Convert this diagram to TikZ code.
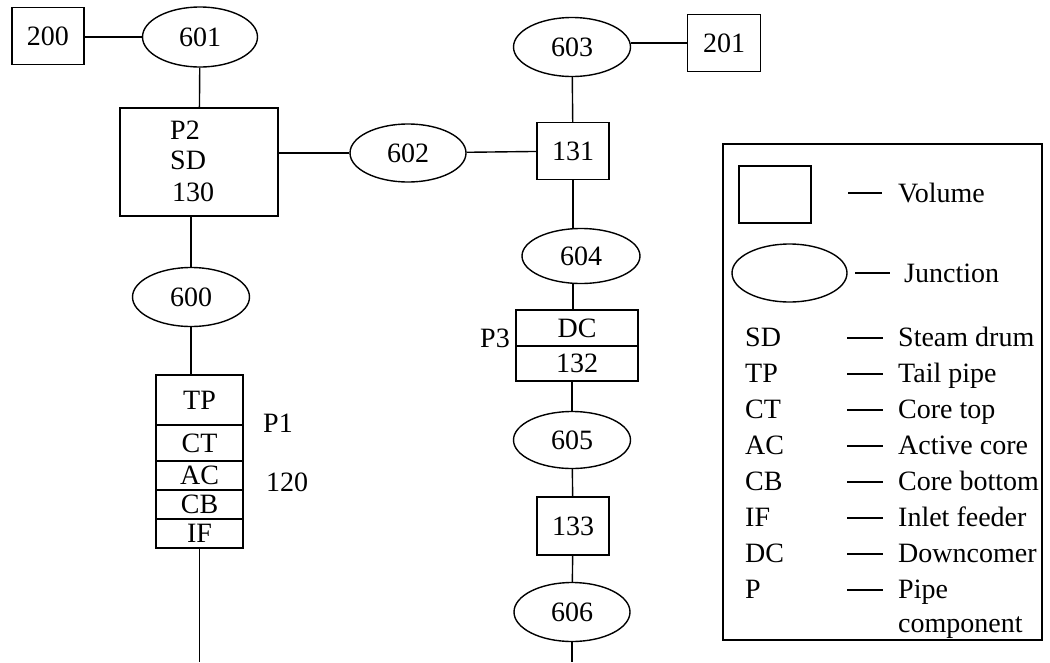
\documentclass[tikz,border=0pt]{standalone}
\usepackage{fontspec}
\setmainfont{Liberation Serif}
\usetikzlibrary{shapes.geometric}
\begin{document}
\begin{tikzpicture}[x=1pt,y=-1pt,
  every node/.style={font=\fontsize{28}{33}\selectfont, inner sep=0pt},
  box/.style 2 args={draw, line width=1.4pt, rectangle, minimum width=#1, minimum height=#2},
  junc/.style 2 args={draw, line width=1.4pt, ellipse, minimum width=#1, minimum height=#2},
  conn/.style={line width=1.4pt},
  dashln/.style={line width=1.2pt},
  abbr/.style={anchor=base west},
  desc/.style={anchor=base west}]
\useasboundingbox (0,0) rectangle (1050,662);
% left column
\node[box={72pt}{57pt}] (b200) at (48,36) {200};
\node[junc={115pt}{60pt}] (j601) at (200,37) {601};
\node[box={158pt}{108pt}] (sd) at (199,162) {};
\node[anchor=west] (tp2) at (170,130) {P2};
\node[anchor=west] (tsd) at (170,160) {SD};
\node[anchor=west] (t130) at (172,192) {130};
\node[junc={117pt}{59pt}] (j600) at (191,297) {600};
\node[box={87pt}{50pt}] (tp) at (199.5,400) {TP};
\node[box={87pt}{36pt}] (ct) at (199.5,443) {CT};
\node[box={87pt}{29pt}] (ac) at (199.5,475.5) {AC};
\node[box={87pt}{29pt}] (cb) at (199.5,504.5) {CB};
\node[box={87pt}{29pt}] (if) at (199.5,533.5) {IF};
\node[anchor=west] (p1) at (263,423) {P1};
\node[anchor=west] (l120) at (266,482) {120};
\coordinate (endL) at (199.5,662);
% middle
\node[junc={116pt}{58pt}] (j602) at (408,153) {602};
% right column
\node[junc={117pt}{59pt}] (j603) at (572,47) {603};
\node[box={73pt}{57pt}] (b201) at (724,43) {201};
\node[box={72pt}{57pt}] (v131) at (573,151) {131};
\node[junc={118pt}{55pt}] (j604) at (581,256) {604};
\node[box={122pt}{36pt}] (dc) at (577,328) {DC};
\node[box={122pt}{35pt}] (v132) at (577,363.5) {132};
\node (p3) at (495,338) {P3};
\node[junc={117pt}{57pt}] (j605) at (572,440) {605};
\node[box={72pt}{58pt}] (v133) at (573,526) {133};
\node[junc={116pt}{59pt}] (j606) at (572,612) {606};
\coordinate (endR) at (572,662);
% connectors
\draw[conn] (j601) -- (j601 -| b200.east);
\draw[conn] (j601) -- (sd);
\draw[conn] (j602) -- (j602 -| sd.east);
\draw[conn] (j602) -- (v131);
\draw[conn] (j603) -- (v131);
\draw[conn] (b201) -- (b201 -| j603.east);
\draw[conn] (v131) -- (v131 |- j604.north);
\draw[conn] (v131 |- j604.south) -- (v131 |- dc.north);
\draw[conn] (j605) -- (j605 |- v132.south);
\draw[conn] (j605) -- (v133);
\draw[conn] (v133) -- (j606);
\draw[conn] (j606) -- (endR);
\draw[conn] (sd.south -| j600) -- (j600);
\draw[conn] (j600) -- (j600 |- tp.north);
\draw[conn] (if) -- (endL);
% legend
\node[draw, line width=1.4pt, minimum width=319pt, minimum height=496pt] (leg) at (882.5,392) {};
\node[box={72pt}{57pt}] (lvol) at (775,194.5) {};
\node[junc={115pt}{58pt}] (ljunc) at (789.5,273) {};
\draw[dashln] (848,193) -- (882,193);
\node[desc] (tvol) at (898,202) {Volume};
\draw[dashln] (855,273) -- (890,273);
\node[desc] (tjunc) at (904,282) {Junction};
\foreach \a/\d/\y in {SD/Steam drum/346, TP/Tail pipe/382, CT/Core top/418, AC/Active core/454, CB/Core bottom/490, IF/Inlet feeder/526, DC/Downcomer/562, P/Pipe/598}{
  \node[abbr] at (745,\y) {\a};
  \draw[dashln] (847,\y-8) -- (883,\y-8);
  \node[desc] at (898,\y) {\d};
}
\node[desc] (tcomp) at (898,632) {component};
\end{tikzpicture}
\end{document}
